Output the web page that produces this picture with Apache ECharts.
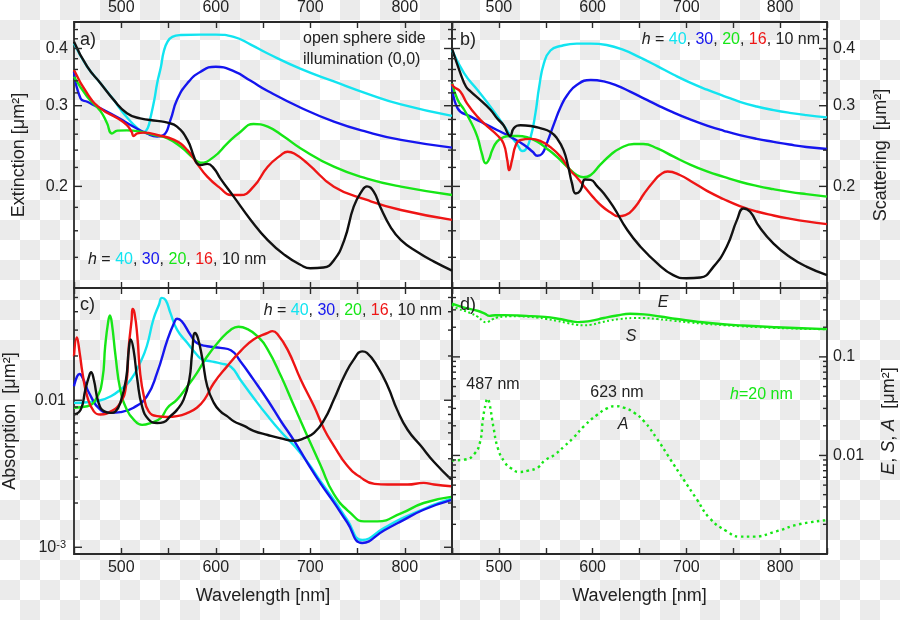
<!DOCTYPE html>
<html><head><meta charset="utf-8">
<script src="https://cdn.jsdelivr.net/npm/echarts@6/dist/echarts.min.js"></script>
<style>
html,body{margin:0;padding:0;}
body{width:900px;height:620px;background:#fff repeating-conic-gradient(#ebebeb 0 25%, #ffffff 0 50%) 0 0/40px 40px;}
#c{width:900px;height:620px;}
</style></head><body><div id="c"></div>
<script>
// ---------- data (wavelength nm, value um^2) ----------
const ext40 = [[450,0.41],[464,0.365],[478,0.336],[492,0.309],[499,0.295],[506,0.283],[513,0.273],[520,0.265],[524,0.263],[528,0.268],[531,0.283],[535,0.309],[538,0.336],[542,0.365],[545,0.394],[549,0.414],[554,0.424],[563,0.428],[584,0.429],[600,0.429],[619,0.424],[637,0.408],[655,0.39],[690,0.361],[725,0.339],[760,0.319],[796,0.302],[850,0.285]];
const ext30 = [[450,0.356],[457,0.311],[464,0.306],[478,0.296],[496,0.283],[513,0.27],[527,0.261],[538,0.257],[545,0.259],[552,0.279],[559,0.309],[570,0.336],[584,0.356],[600,0.365],[619,0.357],[637,0.34],[655,0.323],[690,0.297],[725,0.277],[760,0.263],[796,0.2526],[850,0.243]];
const ext20 = [[450,0.347],[464,0.314],[478,0.292],[485,0.2746],[490,0.261],[496,0.2647],[506,0.265],[520,0.2634],[535,0.259],[549,0.2546],[563,0.244],[577,0.23],[584,0.2253],[598,0.232],[612,0.248],[626,0.263],[640,0.2737],[655,0.27],[672,0.257],[690,0.242],[725,0.2208],[760,0.208],[796,0.1997],[850,0.1915]];
const ext16 = [[450,0.359],[464,0.319],[478,0.296],[496,0.2816],[506,0.272],[511,0.263],[513,0.2576],[517,0.261],[524,0.262],[538,0.259],[556,0.2526],[570,0.24],[580,0.2246],[591,0.21],[605,0.198],[616,0.1915],[626,0.1915],[640,0.1997],[655,0.2208],[669,0.234],[676,0.238],[683,0.236],[697,0.2246],[725,0.1997],[760,0.1868],[796,0.1776],[850,0.169]];
const ext10 = [[450,0.414],[464,0.365],[478,0.336],[492,0.309],[506,0.289],[520,0.2816],[538,0.278],[549,0.2755],[559,0.27],[570,0.2526],[577,0.232],[580,0.2246],[584,0.2226],[591,0.224],[598,0.219],[605,0.208],[619,0.19],[637,0.169],[655,0.1527],[673,0.1416],[690,0.1347],[700,0.1325],[714,0.133],[725,0.138],[736,0.1527],[746,0.1806],[755,0.196],[760,0.2],[767,0.195],[774,0.1806],[785,0.163],[796,0.1527],[813,0.144],[831,0.137],[850,0.131]];

const sca40 = [[450,0.397],[463,0.353],[477,0.325],[491,0.2986],[505,0.272],[512,0.259],[520,0.2463],[525,0.239],[528,0.24],[534,0.2568],[539,0.289],[543,0.33],[548,0.371],[555,0.396],[566,0.405],[583,0.41],[598,0.41],[615,0.407],[633,0.397],[651,0.382],[669,0.366],[686,0.351],[704,0.337],[722,0.3253],[740,0.315],[757,0.306],[775,0.2988],[793,0.2935],[810,0.2895],[828,0.2862],[850,0.283]];
const sca30 = [[450,0.336],[456,0.296],[470,0.284],[484,0.2746],[498,0.2655],[512,0.2568],[527,0.2463],[536,0.238],[541,0.2333],[546,0.2355],[551,0.248],[559,0.2746],[566,0.2986],[573,0.3166],[583,0.333],[598,0.3415],[612,0.339],[626,0.332],[640,0.322],[655,0.311],[669,0.301],[686,0.29],[704,0.28],[722,0.2715],[740,0.2645],[757,0.2588],[775,0.254],[793,0.2502],[810,0.2468],[828,0.2438],[850,0.2414]];
const sca20 = [[450,0.336],[456,0.309],[463,0.294],[470,0.2768],[477,0.2568],[482,0.2355],[486,0.2246],[489,0.228],[493,0.24],[498,0.2505],[505,0.2561],[512,0.2577],[520,0.2577],[530,0.256],[541,0.2505],[551,0.242],[562,0.232],[573,0.2207],[583,0.2118],[590,0.2094],[598,0.2118],[608,0.2228],[619,0.2342],[629,0.242],[644,0.2475],[654,0.2475],[669,0.242],[686,0.2325],[704,0.2232],[722,0.2157],[740,0.2098],[757,0.2047],[775,0.2005],[793,0.1972],[810,0.1946],[828,0.1924],[850,0.19]];
const sca16 = [[450,0.335],[452,0.33],[459,0.322],[466,0.3036],[477,0.284],[488,0.27],[498,0.259],[505,0.248],[509,0.228],[511,0.217],[514,0.228],[518,0.246],[523,0.2525],[534,0.254],[544,0.2515],[555,0.2436],[566,0.232],[576,0.217],[584,0.2084],[591,0.2],[600,0.19],[610,0.181],[620,0.175],[627,0.172],[635,0.173],[645,0.18],[655,0.193],[665,0.205],[672,0.212],[680,0.2155],[693,0.2118],[708,0.2035],[722,0.1955],[740,0.1875],[757,0.1812],[775,0.1763],[793,0.1728],[810,0.1701],[828,0.1677],[850,0.1654]];
const sca10 = [[450,0.40],[459,0.353],[465,0.33],[470,0.322],[480,0.309],[491,0.294],[498,0.2816],[505,0.272],[512,0.2577],[516,0.268],[523,0.272],[534,0.271],[544,0.268],[555,0.263],[562,0.2546],[569,0.24],[574,0.2207],[578,0.203],[582,0.193],[587,0.196],[592,0.207],[598,0.2066],[605,0.2],[612,0.193],[622,0.1806],[637,0.1606],[651,0.1477],[669,0.1358],[686,0.128],[700,0.126],[715,0.1265],[729,0.1336],[743,0.1477],[754,0.169],[761,0.179],[768,0.176],[778,0.163],[793,0.15],[810,0.1404],[828,0.1336],[850,0.128]];

const abs40 = [[450,0.0096],[464,0.0097],[478,0.01],[489,0.01065],[499,0.0118],[510,0.0138],[520,0.018],[527,0.0233],[534,0.0354],[540,0.0448],[543,0.0497],[547,0.0479],[552,0.0393],[559,0.0302],[570,0.0245],[580,0.0204],[586,0.0189],[595,0.0184],[605,0.0178],[616,0.0169],[626,0.0138],[640,0.0104],[655,0.0078],[669,0.0061],[683,0.0049],[697,0.0038],[711,0.0028],[725,0.0021],[739,0.00154],[755,0.00112],[778,0.00135],[796,0.00156],[820,0.00182],[831,0.00195],[849,0.00213]];
const abs30 = [[450,0.01245],[456,0.0151],[460,0.0138],[466,0.0112],[478,0.0086],[489,0.0082],[499,0.0083],[513,0.0089],[527,0.0106],[538,0.0154],[549,0.0259],[556,0.0336],[559,0.0358],[564,0.0345],[573,0.028],[580,0.0245],[591,0.0233],[605,0.0227],[616,0.0219],[626,0.0184],[640,0.0138],[655,0.01],[669,0.0072],[683,0.0053],[697,0.00375],[711,0.00271],[725,0.00202],[739,0.00148],[755,0.00107],[778,0.0013],[796,0.0015],[820,0.0018],[849,0.00209]];
const abs20 = [[450,0.0089],[464,0.0091],[474,0.0104],[480,0.0138],[483,0.0233],[486,0.0336],[488,0.0377],[490,0.0336],[494,0.0199],[499,0.0118],[506,0.0086],[513,0.0074],[522,0.0068],[531,0.007],[542,0.0076],[549,0.0089],[559,0.0101],[570,0.01245],[580,0.0153],[591,0.0199],[605,0.0259],[616,0.0302],[624,0.0316],[633,0.0306],[644,0.0273],[655,0.0221],[669,0.0146],[683,0.0091],[697,0.0057],[711,0.0036],[725,0.0023],[743,0.0017],[757,0.0015],[771,0.0015],[796,0.0017],[820,0.002],[849,0.0022]];
const abs16 = [[450,0.0199],[453,0.0267],[456,0.021],[459,0.0153],[464,0.0106],[471,0.0084],[478,0.008],[489,0.0084],[499,0.0096],[505,0.01245],[508,0.0233],[511,0.0354],[512,0.0418],[514,0.0393],[517,0.0273],[520,0.0153],[524,0.0106],[529,0.0084],[538,0.0078],[549,0.0077],[559,0.0078],[570,0.0082],[580,0.0089],[588,0.0101],[598,0.0131],[612,0.017],[626,0.0215],[640,0.0259],[655,0.0287],[660,0.0295],[665,0.0283],[676,0.0221],[690,0.0138],[704,0.0091],[715,0.0063],[725,0.0049],[739,0.0036],[753,0.003],[768,0.0027],[782,0.00267],[803,0.00267],[820,0.00274],[831,0.00267],[849,0.0026]];
const abs10 = [[450,0.008],[457,0.0086],[462,0.0118],[466,0.0146],[468,0.0155],[471,0.0138],[476,0.0096],[482,0.0084],[489,0.0082],[494,0.0084],[499,0.0096],[505,0.0138],[508,0.0221],[510,0.0259],[513,0.0221],[517,0.0138],[522,0.0091],[529,0.0074],[538,0.007],[545,0.0071],[552,0.0078],[559,0.0086],[566,0.0101],[572,0.0138],[575,0.021],[578,0.0287],[581,0.0266],[586,0.0189],[591,0.01245],[598,0.0096],[605,0.0084],[612,0.0078],[619,0.0072],[630,0.0067],[640,0.0062],[655,0.0058],[669,0.0055],[683,0.0053],[693,0.0055],[704,0.006],[715,0.0074],[725,0.0101],[736,0.0146],[746,0.0189],[755,0.0215],[760,0.021],[771,0.017],[782,0.01245],[792,0.0086],[803,0.0063],[817,0.0049],[831,0.0038],[849,0.0029]];

// tick values and labels
const extMajor = [0.2, 0.3, 0.4];
const extMajorLabels = ['0.2', '0.3', '0.4'];
const extMinor = [0.12,0.14,0.16,0.18,0.22,0.24,0.26,0.28,0.32,0.34,0.36,0.38,0.42,0.44];
const absMajor = [0.001, 0.01];
const absMajorLabels = ['{b|10}{s|-3}', '0.01'];
const absMinor = [0.002,0.003,0.004,0.005,0.006,0.007,0.008,0.009,0.02,0.03,0.04,0.05];
const esaMajor = [0.001, 0.01, 0.1];
const esaMajorLabels = ['', '0.01', '0.1'];
const esaMinor = [0.002,0.003,0.004,0.005,0.006,0.007,0.008,0.009,0.02,0.03,0.04,0.05,0.06,0.07,0.08,0.09,0.2,0.3,0.4];
const heights = ['40', '30', '20', '16', '10'];

// ---------- styling ----------
const FONT = 'Liberation Sans, Arial, Helvetica, sans-serif';
const TXT = '#222';
const COL = {c:'#12e4f0', b:'#1515ee', g:'#16e616', r:'#ee1515', k:'#111111'};
const X0 = 450, X1 = 850;

const grids = [
  {left:74, top:22, width:378, height:266},
  {left:452, top:22, width:375, height:266},
  {left:74, top:288, width:378, height:266},
  {left:452, top:288, width:375, height:266}
].map(g => Object.assign(g, {show:true, borderColor:'#2a2a2a', borderWidth:1.8, backgroundColor:'transparent'}));

function xa(g, pos, showLabel, name) {
  return {
    type:'value', gridIndex:g, position:pos, min:X0, max:X1, interval:50,
    axisLine:{show:false},
    axisTick:{show:true, inside:true, length:6, lineStyle:{color:'#2a2a2a', width:1.4}},
    axisLabel:{show:showLabel, formatter:v => (v % 100 === 0 ? String(v) : ''), fontSize:16, color:TXT, fontFamily:FONT, margin:6},
    splitLine:{show:false},
    name: name || '', nameLocation:'middle', nameGap:33,
    nameTextStyle:{fontSize:18, color:TXT, fontFamily:FONT}
  };
}
const xAxes = [
  xa(0,'top',true), xa(0,'bottom',false),
  xa(1,'top',true), xa(1,'bottom',false),
  xa(2,'top',false), xa(2,'bottom',true,'Wavelength [nm]'),
  xa(3,'top',false), xa(3,'bottom',true,'Wavelength [nm]')
];
function ya(g, pos, min, max, name, gap, rich) {
  return {
    type:'log', gridIndex:g, position:pos, min:min, max:max,
    axisLine:{show:false}, axisTick:{show:false}, axisLabel:{show:false},
    splitLine:{show:false}, minorTick:{show:false}, minorSplitLine:{show:false},
    name:name, nameLocation:'middle', nameRotate:90, nameGap:gap,
    nameTextStyle:{fontSize:18, color:TXT, fontFamily:FONT, rich:rich}
  };
}
const nameRich = {i:{fontStyle:'italic', fontSize:18, color:TXT, fontFamily:FONT}};
const yAxes = [
  ya(0,'left',0.12,0.457,'Extinction [μm²]',46),
  ya(1,'right',0.12,0.457,'Scattering  [μm²]',45),
  ya(2,'left',0.0009,0.058,'Absorption  [μm²]',55),
  ya(3,'right',0.001,0.5,'{i|E}, {i|S}, {i|A}  [μm²]',53,nameRich)
];

function line(name, data, g, color, extra) {
  return Object.assign({
    type:'line', name:name, data:data, xAxisIndex:2*g+1, yAxisIndex:g,
    showSymbol:false, smooth:0.5,
    lineStyle:{color:color, width:2.4, join:'round'}, itemStyle:{color:color}, silent:true, z:3
  }, extra || {});
}

function tickSeries(g, major, minor, labels, side, margin) {
  const data = major.map((v, i) => [X0, v, 1, i]).concat(minor.map(v => [X0, v, 0, -1]));
  return {
    type:'custom', xAxisIndex:2*g+1, yAxisIndex:g, clip:false, silent:true, z:5,
    encode:{x:0, y:1}, data:data,
    renderItem:function(params, api) {
      const v = api.value(1), maj = api.value(2), li = api.value(3);
      const L = api.coord([X0, v]), R = api.coord([X1, v]);
      const len = maj ? 8 : 4;
      const st = {stroke:'#2a2a2a', lineWidth:1.4};
      const ch = [
        {type:'line', shape:{x1:L[0], y1:L[1], x2:L[0] + len, y2:L[1]}, style:st},
        {type:'line', shape:{x1:R[0], y1:R[1], x2:R[0] - len, y2:R[1]}, style:st}
      ];
      if (li >= 0 && labels[li]) {
        const left = side === 'left';
        ch.push({type:'text', x: left ? L[0] - margin : R[0] + margin, y: L[1],
          style:{text:labels[li], fill:TXT, fontSize:16, fontFamily:FONT,
            textAlign: left ? 'right' : 'left', align: left ? 'right' : 'left',
            textVerticalAlign:'middle', verticalAlign:'middle',
            rich:{b:{fontSize:16, fontFamily:FONT, fill:TXT}, s:{fontSize:11, fontFamily:FONT, fill:TXT, verticalAlign:'top'}}}});
      }
      return {type:'group', children:ch};
    }
  };
}

const series = [
  line('ext40', ext40, 0, COL.c), line('ext30', ext30, 0, COL.b), line('ext20', ext20, 0, COL.g), line('ext16', ext16, 0, COL.r), line('ext10', ext10, 0, COL.k),
  line('sca40', sca40, 1, COL.c), line('sca30', sca30, 1, COL.b), line('sca20', sca20, 1, COL.g), line('sca16', sca16, 1, COL.r), line('sca10', sca10, 1, COL.k),
  line('abs40', abs40, 2, COL.c), line('abs30', abs30, 2, COL.b), line('abs20', abs20, 2, COL.g), line('abs16', abs16, 2, COL.r), line('abs10', abs10, 2, COL.k),
  line('E', ext20, 3, COL.g),
  line('S', sca20, 3, COL.g, {lineStyle:{color:COL.g, width:2, type:[2,2.5]}}),
  line('A', abs20, 3, COL.g, {lineStyle:{color:COL.g, width:2.4, type:[2.5,3.5]}}),
  tickSeries(0, extMajor, extMinor, extMajorLabels, 'left', 6),
  tickSeries(1, extMajor, extMinor, extMajorLabels, 'right', 6),
  tickSeries(2, absMajor, absMinor, absMajorLabels, 'left', 8),
  tickSeries(3, esaMajor, esaMinor, esaMajorLabels, 'right', 6)
];

const legRich = {
  i:{fontStyle:'italic', fontSize:16, fontFamily:FONT, fill:TXT},
  c:{fontSize:16, fontFamily:FONT, fill:COL.c},
  b:{fontSize:16, fontFamily:FONT, fill:COL.b},
  g:{fontSize:16, fontFamily:FONT, fill:COL.g},
  r:{fontSize:16, fontFamily:FONT, fill:COL.r}
};
const legText = '{i|h} = {c|' + heights[0] + '}, {b|' + heights[1] + '}, {g|' + heights[2] + '}, {r|' + heights[3] + '}, ' + heights[4] + ' nm';
function txt(x, y, text, align, opt) {
  return {type:'text', x:x, y:y, z:10, silent:true,
    style:Object.assign({text:text, fill:TXT, fontSize:16, fontFamily:FONT,
      textAlign:align, align:align, textVerticalAlign:'middle', verticalAlign:'middle'}, opt || {})};
}
const graphics = [
  txt(80, 40, 'a)', 'left', {fontSize:18}),
  txt(303, 39, 'open sphere side', 'left'),
  txt(303, 60, 'illumination (0,0)', 'left'),
  txt(88, 260, legText, 'left', {rich:legRich}),
  txt(460, 40, 'b)', 'left', {fontSize:18}),
  txt(820, 40, legText, 'right', {rich:legRich}),
  txt(80, 305, 'c)', 'left', {fontSize:18}),
  txt(442, 311, legText, 'right', {rich:legRich}),
  txt(460, 305, 'd)', 'left', {fontSize:18}),
  txt(663, 303, 'E', 'center', {fontStyle:'italic'}),
  txt(631, 337, 'S', 'center', {fontStyle:'italic'}),
  txt(493, 385, '487 nm', 'center'),
  txt(617, 393, '623 nm', 'center'),
  txt(623, 425, 'A', 'center', {fontStyle:'italic'}),
  txt(730, 395, '{i|h}=20 nm', 'left', {fill:COL.g, rich:{i:{fontStyle:'italic', fontSize:16, fontFamily:FONT, fill:COL.g}}})
];

const chart = echarts.init(document.getElementById('c'), null, {renderer:'canvas'});
chart.setOption({
  backgroundColor:'transparent',
  animation:false,
  grid:grids, xAxis:xAxes, yAxis:yAxes, series:series, graphic:graphics
});
</script></body></html>
